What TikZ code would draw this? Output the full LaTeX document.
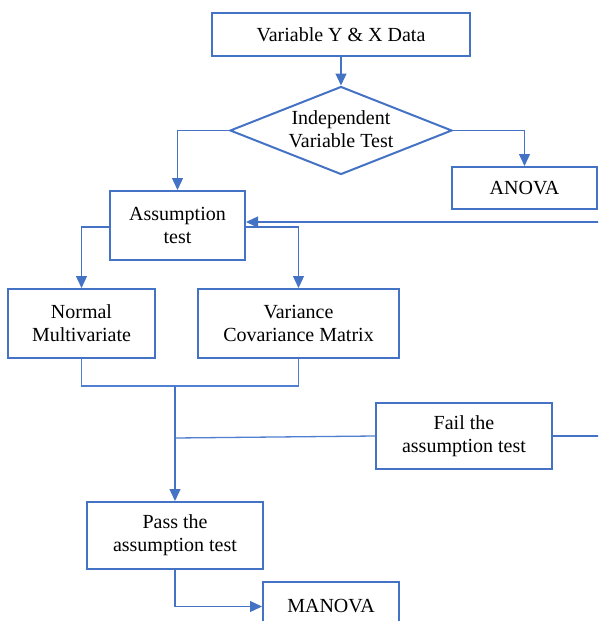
\documentclass[tikz,border=0pt]{standalone}
\usepackage{fontspec}
\setmainfont{Liberation Serif}
\usetikzlibrary{shapes.geometric,arrows.meta,calc}
\definecolor{bblue}{HTML}{4472C4}
\definecolor{lblue}{HTML}{4F7FD0}
\tikzset{
  box/.style={draw=bblue, line width=2pt, rectangle, inner sep=0pt, align=center,
    font=\fontsize{20}{23}\selectfont},
  conn/.style={draw=lblue, line width=1.3pt},
  arr/.style={conn, -{Triangle[length=12pt,width=11pt]}, bblue},
}
\begin{document}
\begin{tikzpicture}[x=1pt,y=-1pt]
\useasboundingbox (0,0) rectangle (598,621);
\clip (0,0) rectangle (598,621);
% nodes
\node[box, minimum width=258pt, minimum height=43pt] (top) at (341,34.5) {Variable Y \& X Data};
\node[diamond, draw=bblue, line width=2pt, minimum width=222pt, minimum height=88pt, inner sep=0pt] (dia) at (341,130.5) {};
\node[align=center, font=\fontsize{20}{23}\selectfont, inner sep=0pt] (diatext) at (341,129) {Independent\\Variable Test};
\node[box, minimum width=145pt, minimum height=42pt] (anova) at (524.5,188) {ANOVA};
\node[box, minimum width=135pt, minimum height=69pt] (assump) at (177.5,225.5) {Assumption\\test};
\node[box, minimum width=147pt, minimum height=69pt] (normal) at (81.5,323.5) {Normal\\Multivariate};
\node[box, minimum width=201pt, minimum height=69pt] (var) at (298.5,323.5) {Variance\\Covariance Matrix};
\node[box, minimum width=176pt, minimum height=66pt] (fail) at (464,436) {Fail the\\assumption test};
\node[box, minimum width=176pt, minimum height=67pt] (pass) at (175,535.5) {Pass the\\assumption test};
\node[box, minimum width=136pt, minimum height=49pt] (manova) at (331,606.5) {MANOVA};
\coordinate (j1) at (175,386);
\coordinate (j2) at (175,438);
\coordinate (fr) at (630,436);
\coordinate (tr) at (630,222);
% connectors
\draw[arr] (top) -- (dia.north);
\draw[arr] (dia.west) -| (assump.north);
\draw[arr] (dia.east) -| (anova.north);
\draw[arr] ($(assump.west)+(0,1.5)$) -| (normal.north);
\draw[arr] ($(assump.east)+(0,1.5)$) -| (var.north);
\draw[conn] (normal.south) |- (j1);
\draw[conn] (var.south) |- (j1);
\draw[arr] (j1) -- (pass.north);
\draw[conn] (fail.west) -- (j2);
\draw[arr] (fail.east) -- (fr) -- (tr) -- ($(assump.east)+(0,-3.5)$);
\draw[arr] (pass.south) |- (manova.west);
\end{tikzpicture}
\end{document}
